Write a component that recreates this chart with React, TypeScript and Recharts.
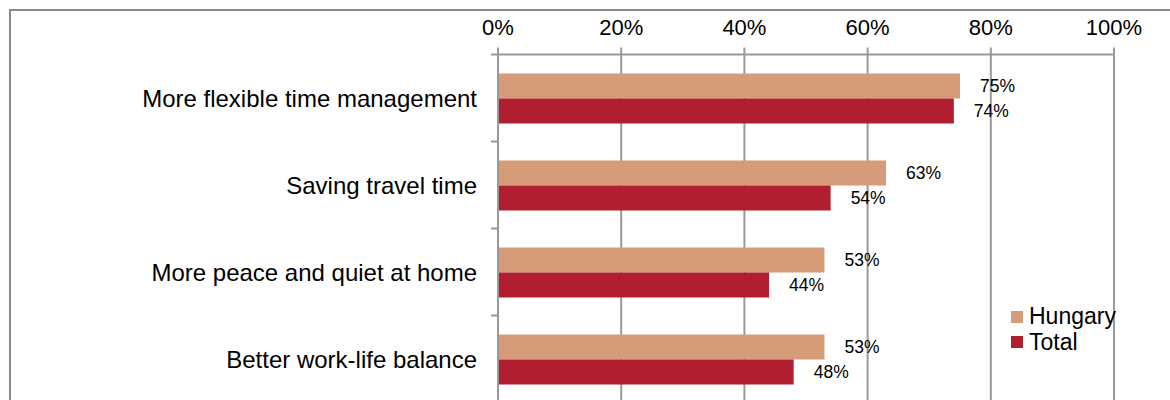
import React from 'react';
import { BarChart, Bar, XAxis, YAxis, CartesianGrid, Legend, LabelList } from 'recharts';

const categories = [
  'More flexible time management',
  'Saving travel time',
  'More peace and quiet at home',
  'Better work-life balance',
];
const hungary = [75, 63, 53, 53];
const total = [74, 54, 44, 48];
const percentTicks = [0, 20, 40, 60, 80, 100];

const seriesInfo = [
  { key: 'hungary', name: 'Hungary', color: '#D69B79' },
  { key: 'total', name: 'Total', color: '#B01E2F' },
];

const data = categories.map((c, i) => ({ category: c, hungary: hungary[i], total: total[i] }));

const FONT = '"Liberation Sans", Arial, sans-serif';
const AXIS = '#999999';
const TICK_LEN = 7;
const TICK_GAP = 14;

// category ticks sit on the band edges, like the Excel original
function CategoryTick(props: any) {
  const { x, y, payload } = props;
  const half = payload?.offset ?? 43.5;
  const axisX = x + TICK_LEN + TICK_GAP;
  return (
    <g>
      <line x1={axisX - TICK_LEN} x2={axisX} y1={y - half} y2={y - half} stroke={AXIS} strokeWidth={2} />
      <text x={x} y={y} dy="0.355em" textAnchor="end" fontSize={24} fill="#000" fontFamily={FONT}>
        {payload.value}
      </text>
    </g>
  );
}

function renderLegend() {
  return (
    <div style={{ fontFamily: FONT, fontSize: 23, lineHeight: '25.5px', color: '#000' }}>
      {seriesInfo.map((s) => (
        <div key={s.key} style={{ display: 'flex', alignItems: 'center' }}>
          <span style={{ width: 12, height: 12, background: s.color, marginRight: 6, display: 'inline-block' }} />
          <span>{s.name}</span>
        </div>
      ))}
    </div>
  );
}

export default function App() {
  return (
    <div style={{ position: 'fixed', left: 0, top: 0, width: 1170, height: 400, overflow: 'hidden', background: '#fff' }}>
      <div
        style={{
          position: 'absolute',
          left: 9,
          top: 9,
          width: 1300,
          height: 500,
          borderLeft: '2px solid #8a8a8a',
          borderTop: '2px solid #8a8a8a',
        }}
      />
      <div style={{ position: 'absolute', left: 0, top: 0 }}>
        <BarChart
          width={1170}
          height={420}
          data={data}
          layout="vertical"
          margin={{ top: 24.5, right: 56, bottom: 17.5, left: 0 }}
          barCategoryGap={19}
          barGap={0}
          style={{ fontFamily: FONT }}
        >
          <CartesianGrid horizontal={false} stroke={AXIS} strokeWidth={2} />
          <XAxis
            type="number"
            orientation="top"
            domain={[0, 100]}
            ticks={percentTicks}
            tickFormatter={(v) => `${v}%`}
            height={30}
            axisLine={{ stroke: AXIS, strokeWidth: 2 }}
            tickLine={{ stroke: AXIS, strokeWidth: 2 }}
            tickSize={TICK_LEN}
            tickMargin={13}
            tick={{ fontSize: 22, fill: '#000', fontFamily: FONT }}
          />
          <YAxis
            type="category"
            dataKey="category"
            width={498}
            axisLine={{ stroke: AXIS, strokeWidth: 2 }}
            tickLine={false}
            tickSize={0}
            tickMargin={TICK_LEN + TICK_GAP}
            tick={<CategoryTick />}
            interval={0}
          />
          <Legend
            content={renderLegend}
            wrapperStyle={{ position: 'absolute', left: 1011, top: 304, width: 120, height: 0, overflow: 'visible' }}
          />
          {seriesInfo.map((s) => (
            <Bar key={s.key} dataKey={s.key} name={s.name} fill={s.color} isAnimationActive={false}>
              <LabelList
                dataKey={s.key}
                position="right"
                offset={20}
                formatter={(v: any) => `${v}%`}
                fill="#000"
                fontSize={17.5}
                fontFamily={FONT}
              />
            </Bar>
          ))}
        </BarChart>
      </div>
    </div>
  );
}
